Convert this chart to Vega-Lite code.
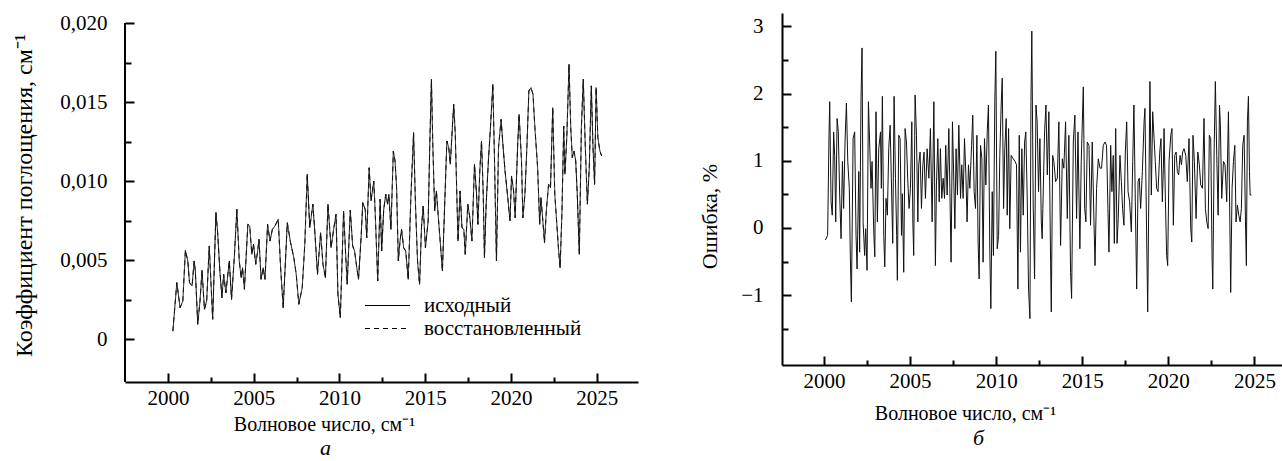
{
  "$schema": "https://vega.github.io/schema/vega-lite/v6.json",
  "background": "white",
  "padding": {"left": 12, "top": 12, "right": 0, "bottom": 0},
  "spacing": 60,
  "config": {
    "font": "Liberation Serif",
    "view": {"stroke": null},
    "axis": {
      "grid": false, "domainColor": "#000", "domainWidth": 2, "tickColor": "#000", "tickWidth": 2,
      "labelFont": "Liberation Serif", "labelFontSize": 21, "labelColor": "#000", "labelOverlap": false, "labelBound": false, "labelFlush": false,
      "titleFont": "Liberation Serif", "titleFontSize": 20, "titleFontWeight": "normal", "titleColor": "#000"
    },
    "title": {"font": "Liberation Serif", "fontSize": 22, "fontStyle": "italic", "fontWeight": "normal", "color": "#000"}
  },
  "datasets": {
    "spec": [
      {"x":2000.29,"orig":0.0005,"rest":0.0005},{"x":2000.52,"orig":0.00357,"rest":0.00357},{"x":2000.71,"orig":0.00198,"rest":0.00198},{"x":2000.87,"orig":0.0024,"rest":0.0024},
      {"x":2001.02,"orig":0.00561,"rest":0.00561},{"x":2001.16,"orig":0.00494,"rest":0.00494},{"x":2001.26,"orig":0.00357,"rest":0.00357},{"x":2001.41,"orig":0.00336,"rest":0.00336},
      {"x":2001.53,"orig":0.00494,"rest":0.00494},{"x":2001.6,"orig":0.0043,"rest":0.0043},{"x":2001.74,"orig":0.00093,"rest":0.00093},{"x":2001.87,"orig":0.0024,"rest":0.0024},
      {"x":2001.99,"orig":0.00435,"rest":0.00435},{"x":2002.13,"orig":0.00188,"rest":0.00188},{"x":2002.26,"orig":0.0024,"rest":0.0024},{"x":2002.41,"orig":0.00589,"rest":0.00589},
      {"x":2002.61,"orig":0.00125,"rest":0.00125},{"x":2002.8,"orig":0.008,"rest":0.008},{"x":2002.9,"orig":0.00673,"rest":0.00673},{"x":2003.03,"orig":0.0043,"rest":0.0043},
      {"x":2003.15,"orig":0.00261,"rest":0.00261},{"x":2003.25,"orig":0.0041,"rest":0.0041},{"x":2003.38,"orig":0.00293,"rest":0.00293},{"x":2003.58,"orig":0.00494,"rest":0.00494},
      {"x":2003.71,"orig":0.00251,"rest":0.00251},{"x":2003.87,"orig":0.00515,"rest":0.00515},{"x":2004.02,"orig":0.00821,"rest":0.00821},{"x":2004.16,"orig":0.00494,"rest":0.00494},
      {"x":2004.27,"orig":0.00388,"rest":0.00388},{"x":2004.35,"orig":0.00451,"rest":0.00451},{"x":2004.46,"orig":0.00315,"rest":0.00315},{"x":2004.66,"orig":0.00726,"rest":0.00726},
      {"x":2004.77,"orig":0.00715,"rest":0.00715},{"x":2004.89,"orig":0.00536,"rest":0.00536},{"x":2004.99,"orig":0.006,"rest":0.006},{"x":2005.12,"orig":0.00473,"rest":0.00473},
      {"x":2005.22,"orig":0.00547,"rest":0.00547},{"x":2005.31,"orig":0.00631,"rest":0.00631},{"x":2005.43,"orig":0.00378,"rest":0.00378},{"x":2005.55,"orig":0.00451,"rest":0.00451},
      {"x":2005.66,"orig":0.00378,"rest":0.00378},{"x":2005.81,"orig":0.00726,"rest":0.00726},{"x":2005.95,"orig":0.0062,"rest":0.0062},{"x":2006.09,"orig":0.00694,"rest":0.00694},
      {"x":2006.24,"orig":0.00715,"rest":0.00715},{"x":2006.43,"orig":0.00758,"rest":0.00758},{"x":2006.57,"orig":0.00451,"rest":0.00451},{"x":2006.72,"orig":0.00198,"rest":0.00198},
      {"x":2006.96,"orig":0.00736,"rest":0.00736},{"x":2007.15,"orig":0.0061,"rest":0.0061},{"x":2007.34,"orig":0.00515,"rest":0.00515},{"x":2007.48,"orig":0.0041,"rest":0.0041},
      {"x":2007.63,"orig":0.0022,"rest":0.0022},{"x":2007.83,"orig":0.00325,"rest":0.00325},{"x":2007.98,"orig":0.006,"rest":0.006},{"x":2008.12,"orig":0.01043,"rest":0.01043},
      {"x":2008.27,"orig":0.00705,"rest":0.00705},{"x":2008.45,"orig":0.00853,"rest":0.00853},{"x":2008.56,"orig":0.00684,"rest":0.00684},{"x":2008.72,"orig":0.0041,"rest":0.0041},
      {"x":2008.9,"orig":0.00673,"rest":0.00673},{"x":2009.04,"orig":0.00473,"rest":0.00473},{"x":2009.18,"orig":0.00388,"rest":0.00388},{"x":2009.33,"orig":0.00853,"rest":0.00853},
      {"x":2009.51,"orig":0.00578,"rest":0.00578},{"x":2009.66,"orig":0.00694,"rest":0.00694},{"x":2009.8,"orig":0.00789,"rest":0.00789},{"x":2009.91,"orig":0.00283,"rest":0.00283},
      {"x":2010.05,"orig":0.00135,"rest":0.00135},{"x":2010.24,"orig":0.0081,"rest":0.0081},{"x":2010.38,"orig":0.00494,"rest":0.00494},{"x":2010.45,"orig":0.00346,"rest":0.00346},
      {"x":2010.63,"orig":0.00815,"rest":0.00815},{"x":2010.77,"orig":0.00589,"rest":0.00589},{"x":2010.88,"orig":0.00557,"rest":0.00557},{"x":2011.01,"orig":0.00451,"rest":0.00451},
      {"x":2011.11,"orig":0.00378,"rest":0.00378},{"x":2011.26,"orig":0.00641,"rest":0.00641},{"x":2011.36,"orig":0.00863,"rest":0.00863},{"x":2011.5,"orig":0.00821,"rest":0.00821},
      {"x":2011.59,"orig":0.00641,"rest":0.00641},{"x":2011.73,"orig":0.01084,"rest":0.01084},{"x":2011.84,"orig":0.00874,"rest":0.00874},{"x":2012.0,"orig":0.01,"rest":0.01},
      {"x":2012.08,"orig":0.0081,"rest":0.0081},{"x":2012.23,"orig":0.00367,"rest":0.00367},{"x":2012.37,"orig":0.00884,"rest":0.00884},{"x":2012.46,"orig":0.00557,"rest":0.00557},
      {"x":2012.58,"orig":0.00821,"rest":0.00821},{"x":2012.7,"orig":0.00916,"rest":0.00916},{"x":2012.81,"orig":0.00853,"rest":0.00853},{"x":2012.88,"orig":0.00916,"rest":0.00916},
      {"x":2013.0,"orig":0.00694,"rest":0.00694},{"x":2013.14,"orig":0.0119,"rest":0.0119},{"x":2013.24,"orig":0.01127,"rest":0.01127},{"x":2013.33,"orig":0.00958,"rest":0.00958},
      {"x":2013.43,"orig":0.00494,"rest":0.00494},{"x":2013.53,"orig":0.0062,"rest":0.0062},{"x":2013.62,"orig":0.00694,"rest":0.00694},{"x":2013.74,"orig":0.00578,"rest":0.00578},
      {"x":2013.86,"orig":0.00557,"rest":0.00557},{"x":2014.01,"orig":0.00378,"rest":0.00378},{"x":2014.16,"orig":0.00895,"rest":0.00895},{"x":2014.32,"orig":0.01306,"rest":0.01306},
      {"x":2014.43,"orig":0.00853,"rest":0.00853},{"x":2014.55,"orig":0.00494,"rest":0.00494},{"x":2014.67,"orig":0.00346,"rest":0.00346},{"x":2014.78,"orig":0.00705,"rest":0.00705},
      {"x":2014.88,"orig":0.00842,"rest":0.00842},{"x":2015.01,"orig":0.00578,"rest":0.00578},{"x":2015.17,"orig":0.00747,"rest":0.00747},{"x":2015.26,"orig":0.01211,"rest":0.01211},
      {"x":2015.36,"orig":0.01644,"rest":0.01644},{"x":2015.44,"orig":0.01232,"rest":0.01232},{"x":2015.55,"orig":0.0081,"rest":0.0081},{"x":2015.65,"orig":0.00937,"rest":0.00937},
      {"x":2015.75,"orig":0.00789,"rest":0.00789},{"x":2015.87,"orig":0.0062,"rest":0.0062},{"x":2016.0,"orig":0.0043,"rest":0.0043},{"x":2016.14,"orig":0.00874,"rest":0.00874},
      {"x":2016.26,"orig":0.01253,"rest":0.01253},{"x":2016.37,"orig":0.01211,"rest":0.01211},{"x":2016.46,"orig":0.01106,"rest":0.01106},{"x":2016.58,"orig":0.01338,"rest":0.01338},
      {"x":2016.66,"orig":0.01486,"rest":0.01486},{"x":2016.75,"orig":0.01296,"rest":0.01296},{"x":2016.83,"orig":0.00958,"rest":0.00958},{"x":2016.91,"orig":0.0062,"rest":0.0062},
      {"x":2017.03,"orig":0.00937,"rest":0.00937},{"x":2017.14,"orig":0.00705,"rest":0.00705},{"x":2017.25,"orig":0.00694,"rest":0.00694},{"x":2017.33,"orig":0.00536,"rest":0.00536},
      {"x":2017.48,"orig":0.00853,"rest":0.00853},{"x":2017.6,"orig":0.00768,"rest":0.00768},{"x":2017.72,"orig":0.0062,"rest":0.0062},{"x":2017.87,"orig":0.01106,"rest":0.01106},
      {"x":2017.99,"orig":0.00916,"rest":0.00916},{"x":2018.07,"orig":0.00726,"rest":0.00726},{"x":2018.18,"orig":0.01064,"rest":0.01064},{"x":2018.28,"orig":0.01253,"rest":0.01253},
      {"x":2018.38,"orig":0.00916,"rest":0.00916},{"x":2018.45,"orig":0.00515,"rest":0.00515},{"x":2018.55,"orig":0.00853,"rest":0.00853},{"x":2018.68,"orig":0.01127,"rest":0.01127},
      {"x":2018.8,"orig":0.01338,"rest":0.01338},{"x":2018.94,"orig":0.01612,"rest":0.01612},{"x":2019.03,"orig":0.01169,"rest":0.01169},{"x":2019.15,"orig":0.00494,"rest":0.00494},
      {"x":2019.27,"orig":0.01211,"rest":0.01211},{"x":2019.42,"orig":0.0139,"rest":0.0139},{"x":2019.54,"orig":0.01211,"rest":0.01211},{"x":2019.65,"orig":0.01064,"rest":0.01064},
      {"x":2019.81,"orig":0.00895,"rest":0.00895},{"x":2019.94,"orig":0.00747,"rest":0.00747},{"x":2020.03,"orig":0.01032,"rest":0.01032},{"x":2020.15,"orig":0.00937,"rest":0.00937},
      {"x":2020.24,"orig":0.00768,"rest":0.00768},{"x":2020.38,"orig":0.01211,"rest":0.01211},{"x":2020.47,"orig":0.01422,"rest":0.01422},{"x":2020.61,"orig":0.01127,"rest":0.01127},
      {"x":2020.69,"orig":0.00768,"rest":0.00768},{"x":2020.81,"orig":0.00916,"rest":0.00916},{"x":2020.93,"orig":0.01232,"rest":0.01232},{"x":2021.04,"orig":0.0157,"rest":0.0157},
      {"x":2021.16,"orig":0.01591,"rest":0.01591},{"x":2021.28,"orig":0.01549,"rest":0.01549},{"x":2021.39,"orig":0.01338,"rest":0.01338},{"x":2021.55,"orig":0.01084,"rest":0.01084},
      {"x":2021.67,"orig":0.00726,"rest":0.00726},{"x":2021.74,"orig":0.00895,"rest":0.00895},{"x":2021.84,"orig":0.00768,"rest":0.00768},{"x":2021.95,"orig":0.0061,"rest":0.0061},
      {"x":2022.07,"orig":0.00831,"rest":0.00831},{"x":2022.19,"orig":0.00979,"rest":0.00979},{"x":2022.3,"orig":0.00958,"rest":0.00958},{"x":2022.43,"orig":0.01464,"rest":0.01464},
      {"x":2022.55,"orig":0.00916,"rest":0.00916},{"x":2022.67,"orig":0.00726,"rest":0.00726},{"x":2022.76,"orig":0.00578,"rest":0.00578},{"x":2022.86,"orig":0.00451,"rest":0.00451},
      {"x":2022.97,"orig":0.0081,"rest":0.0081},{"x":2023.07,"orig":0.01348,"rest":0.01348},{"x":2023.14,"orig":0.01043,"rest":0.01043},{"x":2023.25,"orig":0.01275,"rest":0.01275},
      {"x":2023.38,"orig":0.01739,"rest":0.01739},{"x":2023.48,"orig":0.01338,"rest":0.01338},{"x":2023.57,"orig":0.01148,"rest":0.01148},{"x":2023.67,"orig":0.0119,"rest":0.0119},
      {"x":2023.77,"orig":0.01127,"rest":0.01127},{"x":2023.86,"orig":0.00916,"rest":0.00916},{"x":2023.98,"orig":0.00536,"rest":0.00536},{"x":2024.1,"orig":0.01338,"rest":0.01338},
      {"x":2024.21,"orig":0.01644,"rest":0.01644},{"x":2024.33,"orig":0.01211,"rest":0.01211},{"x":2024.45,"orig":0.00853,"rest":0.00853},{"x":2024.56,"orig":0.01084,"rest":0.01084},
      {"x":2024.68,"orig":0.01602,"rest":0.01602},{"x":2024.77,"orig":0.01232,"rest":0.01232},{"x":2024.87,"orig":0.00979,"rest":0.00979},{"x":2024.96,"orig":0.01591,"rest":0.01591},
      {"x":2025.06,"orig":0.01275,"rest":0.01275},{"x":2025.18,"orig":0.0119,"rest":0.0119},{"x":2025.28,"orig":0.01159,"rest":0.01159}
    ],
    "err": [
      {"x":2000.08,"err":-0.18},{"x":2000.21,"err":-0.11},{"x":2000.29,"err":1.38},{"x":2000.33,"err":1.88},{"x":2000.41,"err":0.39},{"x":2000.48,"err":0.19},
      {"x":2000.56,"err":1.43},{"x":2000.62,"err":1.08},{"x":2000.68,"err":0.09},{"x":2000.76,"err":1.63},{"x":2000.83,"err":1.43},{"x":2000.91,"err":0.49},
      {"x":2000.99,"err":-0.16},{"x":2001.07,"err":0.99},{"x":2001.14,"err":0.29},{"x":2001.22,"err":1.28},{"x":2001.3,"err":1.86},{"x":2001.38,"err":0.99},
      {"x":2001.47,"err":0.59},{"x":2001.53,"err":-0.46},{"x":2001.59,"err":-1.1},{"x":2001.69,"err":1.33},{"x":2001.78,"err":1.43},{"x":2001.86,"err":-0.11},
      {"x":2001.92,"err":-0.61},{"x":2002.02,"err":0.84},{"x":2002.07,"err":-0.36},{"x":2002.15,"err":1.93},{"x":2002.21,"err":2.68},{"x":2002.27,"err":0.09},
      {"x":2002.36,"err":-0.41},{"x":2002.42,"err":-0.01},{"x":2002.5,"err":-0.63},{"x":2002.58,"err":1.88},{"x":2002.66,"err":1.18},{"x":2002.73,"err":0.59},
      {"x":2002.79,"err":0.99},{"x":2002.89,"err":-0.06},{"x":2002.95,"err":-0.43},{"x":2003.02,"err":1.73},{"x":2003.1,"err":0.09},{"x":2003.18,"err":1.18},
      {"x":2003.28,"err":1.43},{"x":2003.33,"err":0.59},{"x":2003.39,"err":1.96},{"x":2003.47,"err":-0.11},{"x":2003.53,"err":-0.58},{"x":2003.6,"err":0.44},
      {"x":2003.68,"err":0.19},{"x":2003.76,"err":1.18},{"x":2003.84,"err":1.53},{"x":2003.91,"err":0.74},{"x":2003.99,"err":-0.23},{"x":2004.07,"err":1.96},
      {"x":2004.15,"err":0.74},{"x":2004.22,"err":-0.11},{"x":2004.26,"err":-0.78},{"x":2004.34,"err":1.38},{"x":2004.42,"err":1.33},{"x":2004.5,"err":-0.11},
      {"x":2004.55,"err":0.51},{"x":2004.63,"err":-0.66},{"x":2004.71,"err":1.48},{"x":2004.79,"err":1.28},{"x":2004.86,"err":0.74},{"x":2004.94,"err":0.29},
      {"x":2005.02,"err":0.59},{"x":2005.1,"err":1.58},{"x":2005.16,"err":0.09},{"x":2005.21,"err":-0.41},{"x":2005.29,"err":1.98},{"x":2005.37,"err":1.38},
      {"x":2005.45,"err":0.09},{"x":2005.5,"err":0.94},{"x":2005.58,"err":1.13},{"x":2005.66,"err":0.29},{"x":2005.74,"err":0.94},{"x":2005.81,"err":1.13},
      {"x":2005.89,"err":0.44},{"x":2005.99,"err":1.18},{"x":2006.09,"err":0.74},{"x":2006.18,"err":1.48},{"x":2006.28,"err":0.09},{"x":2006.38,"err":1.88},
      {"x":2006.47,"err":-0.56},{"x":2006.53,"err":0.64},{"x":2006.61,"err":1.33},{"x":2006.69,"err":0.39},{"x":2006.76,"err":1.18},{"x":2006.84,"err":0.44},
      {"x":2006.92,"err":0.74},{"x":2007.0,"err":0.44},{"x":2007.07,"err":1.23},{"x":2007.15,"err":0.49},{"x":2007.25,"err":1.48},{"x":2007.31,"err":0.59},
      {"x":2007.38,"err":-0.51},{"x":2007.46,"err":1.58},{"x":2007.54,"err":0.69},{"x":2007.6,"err":-0.01},{"x":2007.67,"err":1.18},{"x":2007.75,"err":0.49},
      {"x":2007.83,"err":1.53},{"x":2007.93,"err":0.44},{"x":2008.0,"err":0.94},{"x":2008.08,"err":0.44},{"x":2008.16,"err":1.33},{"x":2008.24,"err":0.79},
      {"x":2008.31,"err":0.09},{"x":2008.39,"err":0.94},{"x":2008.47,"err":0.59},{"x":2008.57,"err":1.23},{"x":2008.64,"err":1.68},{"x":2008.72,"err":0.54},
      {"x":2008.8,"err":0.29},{"x":2008.88,"err":1.38},{"x":2008.95,"err":-0.21},{"x":2009.01,"err":-0.76},{"x":2009.09,"err":1.23},{"x":2009.17,"err":1.03},
      {"x":2009.24,"err":-0.51},{"x":2009.32,"err":1.33},{"x":2009.4,"err":0.64},{"x":2009.48,"err":1.43},{"x":2009.55,"err":1.83},{"x":2009.63,"err":-0.36},
      {"x":2009.69,"err":-1.2},{"x":2009.77,"err":0.54},{"x":2009.84,"err":-0.41},{"x":2009.92,"err":1.88},{"x":2009.98,"err":2.63},{"x":2010.06,"err":-0.31},
      {"x":2010.14,"err":-0.11},{"x":2010.21,"err":1.08},{"x":2010.29,"err":1.83},{"x":2010.35,"err":2.23},{"x":2010.43,"err":0.29},{"x":2010.5,"err":1.18},
      {"x":2010.58,"err":1.63},{"x":2010.64,"err":0.19},{"x":2010.72,"err":1.48},{"x":2010.79,"err":-0.01},{"x":2010.87,"err":1.08},{"x":2010.99,"err":1.03},
      {"x":2011.1,"err":0.99},{"x":2011.18,"err":0.94},{"x":2011.26,"err":-0.91},{"x":2011.34,"err":1.38},{"x":2011.41,"err":-0.36},{"x":2011.49,"err":1.18},
      {"x":2011.57,"err":0.19},{"x":2011.65,"err":1.28},{"x":2011.72,"err":1.43},{"x":2011.8,"err":0.49},{"x":2011.88,"err":-0.91},{"x":2011.96,"err":-1.35},
      {"x":2012.02,"err":1.88},{"x":2012.07,"err":2.93},{"x":2012.15,"err":0.34},{"x":2012.23,"err":-0.76},{"x":2012.31,"err":1.83},{"x":2012.38,"err":1.58},
      {"x":2012.46,"err":0.54},{"x":2012.54,"err":1.33},{"x":2012.62,"err":0.09},{"x":2012.67,"err":-0.16},{"x":2012.71,"err":0.29},{"x":2012.81,"err":1.43},
      {"x":2012.89,"err":1.83},{"x":2012.97,"err":0.79},{"x":2013.06,"err":1.73},{"x":2013.16,"err":-0.51},{"x":2013.2,"err":-1.25},{"x":2013.28,"err":1.08},
      {"x":2013.35,"err":0.99},{"x":2013.45,"err":0.69},{"x":2013.55,"err":0.74},{"x":2013.64,"err":1.58},{"x":2013.74,"err":-0.26},{"x":2013.84,"err":1.03},
      {"x":2013.93,"err":0.89},{"x":2014.03,"err":1.58},{"x":2014.13,"err":0.14},{"x":2014.22,"err":1.38},{"x":2014.32,"err":-0.66},{"x":2014.38,"err":-1.05},
      {"x":2014.48,"err":1.28},{"x":2014.57,"err":1.68},{"x":2014.67,"err":0.14},{"x":2014.75,"err":1.43},{"x":2014.86,"err":-0.31},{"x":2014.94,"err":0.99},
      {"x":2015.06,"err":2.1},{"x":2015.14,"err":0.29},{"x":2015.21,"err":0.09},{"x":2015.29,"err":1.28},{"x":2015.39,"err":1.23},{"x":2015.48,"err":0.04},
      {"x":2015.58,"err":1.28},{"x":2015.68,"err":0.09},{"x":2015.74,"err":-0.56},{"x":2015.83,"err":0.59},{"x":2015.93,"err":1.03},{"x":2016.03,"err":0.89},
      {"x":2016.12,"err":0.89},{"x":2016.22,"err":1.23},{"x":2016.32,"err":1.28},{"x":2016.41,"err":1.23},{"x":2016.49,"err":0.29},{"x":2016.55,"err":-0.36},
      {"x":2016.65,"err":1.23},{"x":2016.72,"err":0.54},{"x":2016.8,"err":1.08},{"x":2016.86,"err":-0.23},{"x":2016.94,"err":1.48},{"x":2017.02,"err":-0.23},
      {"x":2017.09,"err":0.14},{"x":2017.19,"err":1.08},{"x":2017.27,"err":0.69},{"x":2017.34,"err":0.29},{"x":2017.42,"err":0.04},{"x":2017.5,"err":1.13},
      {"x":2017.58,"err":1.58},{"x":2017.66,"err":0.54},{"x":2017.75,"err":0.39},{"x":2017.85,"err":-0.06},{"x":2017.93,"err":0.99},{"x":2018.0,"err":1.83},
      {"x":2018.08,"err":0.39},{"x":2018.16,"err":-0.91},{"x":2018.24,"err":0.69},{"x":2018.31,"err":0.74},{"x":2018.39,"err":0.29},{"x":2018.49,"err":0.84},
      {"x":2018.59,"err":1.58},{"x":2018.64,"err":1.78},{"x":2018.72,"err":0.24},{"x":2018.8,"err":-1.25},{"x":2018.88,"err":0.89},{"x":2018.93,"err":2.18},
      {"x":2019.01,"err":0.49},{"x":2019.09,"err":1.73},{"x":2019.17,"err":1.33},{"x":2019.24,"err":0.99},{"x":2019.32,"err":0.59},{"x":2019.4,"err":0.54},
      {"x":2019.5,"err":1.13},{"x":2019.57,"err":1.33},{"x":2019.65,"err":0.39},{"x":2019.71,"err":0.89},{"x":2019.75,"err":1.48},{"x":2019.83,"err":0.39},
      {"x":2019.9,"err":-0.41},{"x":2019.96,"err":-0.56},{"x":2020.04,"err":0.99},{"x":2020.14,"err":1.38},{"x":2020.21,"err":1.48},{"x":2020.29,"err":0.04},
      {"x":2020.37,"err":1.08},{"x":2020.45,"err":1.13},{"x":2020.52,"err":0.84},{"x":2020.6,"err":0.79},{"x":2020.68,"err":1.08},{"x":2020.76,"err":0.94},
      {"x":2020.83,"err":1.13},{"x":2020.91,"err":1.18},{"x":2021.01,"err":1.08},{"x":2021.1,"err":0.69},{"x":2021.2,"err":1.33},{"x":2021.3,"err":-0.01},
      {"x":2021.36,"err":-0.21},{"x":2021.43,"err":1.38},{"x":2021.51,"err":0.99},{"x":2021.61,"err":0.14},{"x":2021.71,"err":1.13},{"x":2021.8,"err":0.94},
      {"x":2021.88,"err":0.64},{"x":2021.98,"err":0.59},{"x":2022.07,"err":1.63},{"x":2022.15,"err":0.29},{"x":2022.23,"err":0.09},{"x":2022.31,"err":-0.01},
      {"x":2022.38,"err":1.38},{"x":2022.46,"err":1.33},{"x":2022.54,"err":-0.46},{"x":2022.58,"err":-0.91},{"x":2022.66,"err":1.18},{"x":2022.73,"err":2.18},
      {"x":2022.81,"err":1.08},{"x":2022.89,"err":0.19},{"x":2022.97,"err":1.83},{"x":2023.02,"err":1.53},{"x":2023.1,"err":0.44},{"x":2023.2,"err":0.99},
      {"x":2023.29,"err":0.94},{"x":2023.39,"err":0.39},{"x":2023.49,"err":1.73},{"x":2023.57,"err":0.09},{"x":2023.62,"err":-0.96},{"x":2023.7,"err":0.59},
      {"x":2023.78,"err":0.99},{"x":2023.86,"err":1.23},{"x":2023.93,"err":0.09},{"x":2024.01,"err":0.34},{"x":2024.09,"err":0.19},{"x":2024.17,"err":0.09},
      {"x":2024.24,"err":0.29},{"x":2024.32,"err":1.23},{"x":2024.4,"err":1.38},{"x":2024.48,"err":0.09},{"x":2024.53,"err":-0.56},{"x":2024.59,"err":1.58},
      {"x":2024.65,"err":1.96},{"x":2024.71,"err":0.84},{"x":2024.75,"err":0.49},{"x":2024.83,"err":0.49}
    ]
  },
  "hconcat": [
    {
      "width": 513,
      "height": 369,
      "layer": [
        {
          "data": {"name": "spec"},
          "transform": [{"fold": ["orig", "rest"], "as": ["series", "k"]}],
          "mark": {"type": "line", "color": "#111", "strokeWidth": 1},
          "encoding": {
            "x": {
              "field": "x", "type": "quantitative",
              "scale": {"domain": [1997.5, 2027.4], "nice": false, "zero": false},
              "axis": {
                "values": [2000, 2002.5, 2005, 2007.5, 2010, 2012.5, 2015, 2017.5, 2020, 2022.5, 2025],
                "labelExpr": "datum.value % 5 == 0 ? format(datum.value, 'd') : ''",
                "tickSize": {"expr": "datum.value % 5 == 0 ? -9 : -5"},
                "labelPadding": 14,
                "title": "Волновое число, см⁻¹",
                "titleX": 199,
                "titlePadding": 2
              }
            },
            "y": {
              "field": "k", "type": "quantitative",
              "scale": {"domain": [-0.00272, 0.020633], "nice": false, "zero": false},
              "axis": {
                "domain": false,
                "values": [0, 0.0025, 0.005, 0.0075, 0.01, 0.0125, 0.015, 0.0175, 0.02],
                "labelExpr": "abs(datum.value*200 - round(datum.value*200)) > 0.01 ? '' : (datum.value == 0 ? '0' : replace(format(datum.value, '.3f'), '.', ','))",
                "tickSize": {"expr": "abs(datum.value*200 - round(datum.value*200)) < 0.01 ? -9 : -6"},
                "labelPadding": 27,
                "title": "Коэффициент поглощения, см⁻¹",
                "titleFontSize": 24,
                "titleY": 182,
                "titlePadding": 23
              }
            },
            "strokeDash": {
              "field": "series", "type": "nominal",
              "scale": {"domain": ["orig", "rest"], "range": [[1, 0], [5, 4]]},
              "legend": {
                "orient": "none", "legendX": 252, "legendY": 282, "title": null, "padding": 0,
                "symbolType": "M-4.5,0H4.5", "symbolSize": 100, "symbolStrokeWidth": 1.2, "symbolStrokeColor": "#000", "symbolFillColor": "transparent",
                "labelOffset": 26, "labelFont": "Liberation Serif", "labelFontSize": 21, "labelColor": "#000", "rowPadding": 1,
                "labelExpr": "datum.label == 'orig' ? 'исходный' : 'восстановленный'"
              }
            }
          }
        },
        {
          "data": {"values": [{}]},
          "mark": {"type": "rule", "color": "#000", "strokeWidth": 2},
          "encoding": {"x": {"datum": 1997.5}, "y": {"datum": -0.00272}, "y2": {"datum": 0.02}}
        }
      ],
      "title": {"text": "а", "orient": "bottom", "anchor": "start", "frame": "group", "dx": 195, "offset": 4}
    },
    {
      "width": 500,
      "height": 352,
      "data": {"name": "err"},
      "mark": {"type": "line", "color": "#111", "strokeWidth": 1},
      "encoding": {
        "x": {
          "field": "x", "type": "quantitative",
          "scale": {"domain": [1997.56, 2026.6], "nice": false, "zero": false},
          "axis": {
            "values": [2000, 2002.5, 2005, 2007.5, 2010, 2012.5, 2015, 2017.5, 2020, 2022.5, 2025],
            "labelExpr": "datum.value % 5 == 0 ? format(datum.value, 'd') : ''",
            "tickSize": {"expr": "datum.value % 5 == 0 ? -9 : -5"},
            "labelPadding": 14,
            "title": "Волновое число, см⁻¹",
            "titleX": 183,
            "titlePadding": 8
          }
        },
        "y": {
          "field": "err", "type": "quantitative",
          "scale": {"domain": [-2.04, 3.2], "nice": false, "zero": false},
          "axis": {
            "values": [-1.5, -1, -0.5, 0, 0.5, 1, 1.5, 2, 2.5, 3],
            "labelExpr": "datum.value % 1 == 0 ? format(datum.value, 'd') : ''",
            "tickSize": {"expr": "datum.value % 1 == 0 ? -9 : -6"},
            "labelPadding": 28,
            "title": "Ошибка, %",
            "titleFontSize": 22,
            "titleY": 203,
            "titlePadding": 19
          }
        }
      },
      "title": {"text": "б", "orient": "bottom", "anchor": "start", "frame": "group", "dx": 191, "offset": 5}
    }
  ]
}
